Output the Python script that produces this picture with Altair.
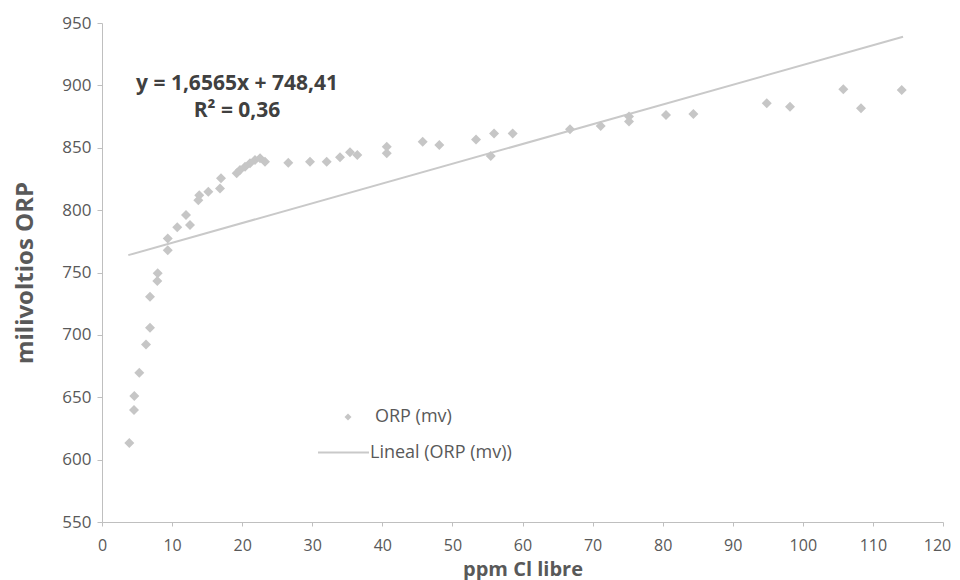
import altair as alt
import pandas as pd

# Measured points (ppm Cl libre, ORP mV)
x_cl = [3.90, 4.57, 4.61, 5.32, 6.28, 6.85, 6.85, 7.89, 7.95, 9.38, 9.38, 10.74,
        12.56, 11.99, 13.74, 13.88, 15.17, 16.84, 16.98, 19.22, 19.69, 20.41, 21.12,
        21.83, 22.55, 23.26, 26.58, 29.68, 32.06, 33.96, 35.39, 36.43, 40.63, 40.63,
        45.76, 48.13, 53.37, 55.94, 55.47, 58.60, 66.78, 71.16, 75.20, 75.20, 80.48,
        84.38, 94.85, 98.17, 105.78, 108.30, 114.11]
y_orp = [613.4, 639.7, 651.1, 669.6, 692.3, 705.7, 730.5, 743.1, 749.3, 767.9, 777.3,
         786.2, 788.0, 796.0, 808.0, 812.0, 814.7, 817.4, 825.5, 829.5, 832.1, 834.8,
         837.5, 840.1, 841.5, 838.8, 838.0, 838.8, 838.8, 842.3, 846.3, 844.1, 845.5,
         850.8, 854.8, 852.2, 856.7, 861.5, 843.3, 861.5, 864.8, 867.4, 875.0, 871.0,
         876.2, 877.0, 885.6, 882.9, 896.8, 881.6, 896.3]

# Linear trendline, endpoints as drawn in the picture
trend_x = [3.75, 114.3]
trend_y = [763.9, 939.0]

series_points = "ORP (mv)"
series_line = "Lineal (ORP (mv))"
eq_lines = ["y = 1,6565x + 748,41", "R\u00b2 = 0,36"]

x_ticks = list(range(0, 121, 10))
y_ticks = list(range(550, 951, 50))

FONT = "Open Sans"
TXT = "#595959"
AXC = "#bfbfbf"

pts = pd.DataFrame({"x": x_cl, "y": y_orp, "sp": series_points})
trend = pd.DataFrame({"x": trend_x, "y": trend_y, "sl": series_line})

xs = alt.Scale(domain=[0, 120], nice=False, zero=False)
ys = alt.Scale(domain=[550, 950], nice=False, zero=False)

x_axis = alt.Axis(values=x_ticks, grid=False, domainColor=AXC, tickColor=AXC,
                  tickSize=4, labelColor=TXT, labelFontSize=16, labelFont=FONT,
                  labelFlush=False, labelPadding=11,
                  labelOffset=alt.condition("datum.value == 120", alt.value(-6),
                                            alt.value(0)),
                  title="ppm Cl libre",
                  titleFont=FONT, titleFontSize=20, titleFontWeight="bold",
                  titleColor=TXT, titleY=53, titleBaseline="alphabetic")
y_axis = alt.Axis(values=y_ticks, grid=False, domainColor=AXC, tickColor=AXC,
                  tickSize=5, labelColor=TXT, labelFontSize=17, labelFont=FONT,
                  labelPadding=6, title="milivoltios ORP", titleFont=FONT,
                  titleFontSize=24, titleFontWeight="bold", titleColor=TXT,
                  titleX=-77, titleBaseline="middle")

line = alt.Chart(trend).mark_line(strokeWidth=2).encode(
    x=alt.X("x:Q", scale=xs, axis=x_axis),
    y=alt.Y("y:Q", scale=ys, axis=y_axis),
    color=alt.Color("sl:N",
                    scale=alt.Scale(domain=[series_line], range=["#c9c9c9"]),
                    legend=alt.Legend(title=None, orient="none", legendX=215,
                                      legendY=403, symbolSize=2601,
                                      symbolStrokeWidth=2, labelOffset=0,
                                      padding=0, labelFont=FONT, labelFontSize=18,
                                      labelColor=TXT)),
)

points = alt.Chart(pts).mark_point(filled=True, size=100, color="#c6c6c6",
                                   opacity=1).encode(
    x=alt.X("x:Q", scale=xs),
    y=alt.Y("y:Q", scale=ys),
    shape=alt.Shape("sp:N",
                    scale=alt.Scale(domain=[series_points], range=["diamond"]),
                    legend=alt.Legend(title=None, orient="none", legendX=237,
                                      legendY=385, symbolSize=49,
                                      symbolFillColor="#cccccc", labelOffset=18,
                                      padding=0, labelFont=FONT, labelFontSize=18,
                                      labelColor=TXT)),
)

eq1 = alt.Chart(pd.DataFrame({"t": [eq_lines[0]]})).mark_text(
    font=FONT, fontSize=21, fontWeight="bold", color="#404040", align="center",
    baseline="middle").encode(x=alt.value(135), y=alt.value(61), text="t:N")
eq2 = alt.Chart(pd.DataFrame({"t": [eq_lines[1]]})).mark_text(
    font=FONT, fontSize=21, fontWeight="bold", color="#404040", align="center",
    baseline="middle").encode(x=alt.value(135), y=alt.value(88), text="t:N")

chart = alt.layer(line, points, eq1, eq2).resolve_legend(
    color="independent", shape="independent"
).properties(
    width=841, height=499,
    autosize=alt.AutoSizeParams(type="none"),
    padding={"left": 94, "top": 15, "right": 9, "bottom": 58},
    background="white",
).configure_view(strokeWidth=0)

chart.save("out.html", embed_options={"renderer": "svg", "actions": False})
